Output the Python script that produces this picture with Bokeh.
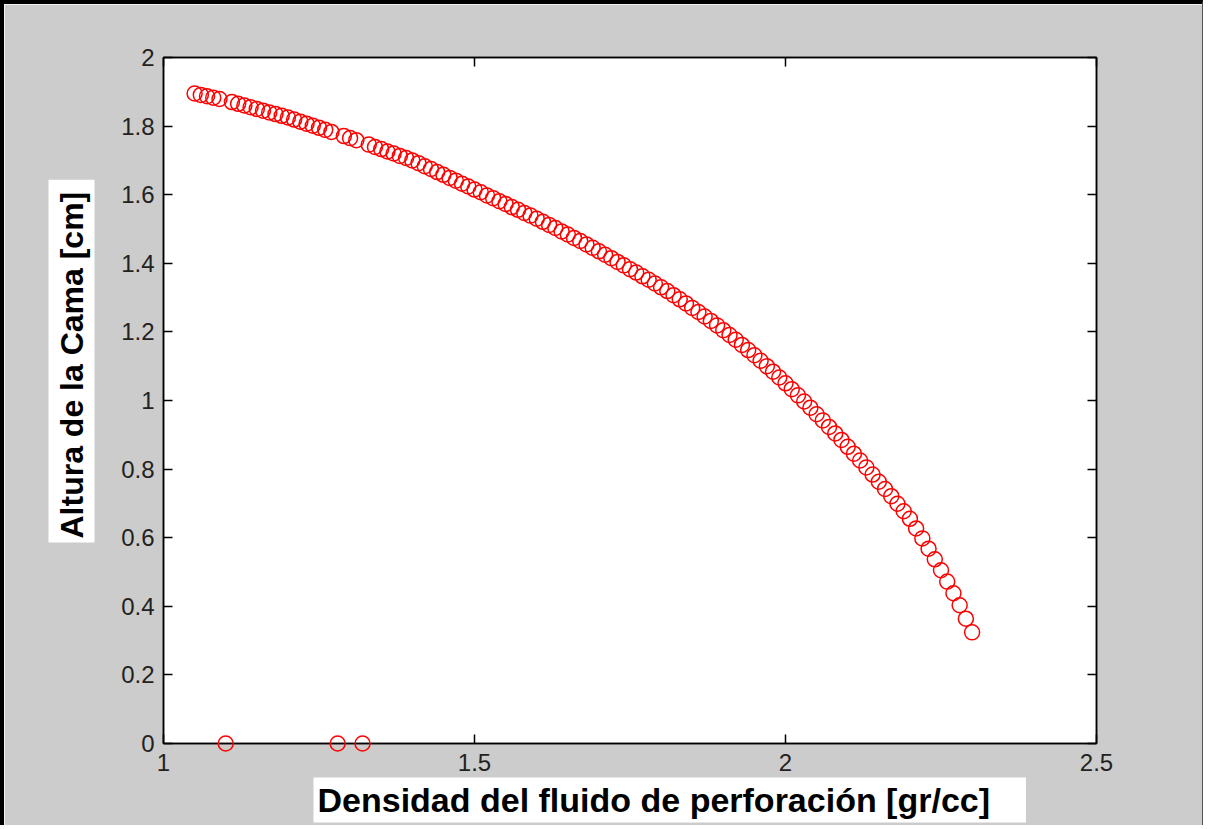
from bokeh.plotting import figure
from bokeh.models import Range1d, FixedTicker, LinearAxis, Title, ColumnDataSource
from bokeh.embed import file_html
from bokeh.resources import INLINE

# ---------------- data ----------------
density = [
    1.05, 1.06, 1.07, 1.08, 1.09, 1.10, 1.11, 1.12, 1.13, 1.14,
    1.15, 1.16, 1.17, 1.18, 1.19, 1.20, 1.21, 1.22, 1.23, 1.24,
    1.25, 1.26, 1.27, 1.28, 1.29, 1.30, 1.31, 1.32, 1.33, 1.34,
    1.35, 1.36, 1.37, 1.38, 1.39, 1.40, 1.41, 1.42, 1.43, 1.44,
    1.45, 1.46, 1.47, 1.48, 1.49, 1.50, 1.51, 1.52, 1.53, 1.54,
    1.55, 1.56, 1.57, 1.58, 1.59, 1.60, 1.61, 1.62, 1.63, 1.64,
    1.65, 1.66, 1.67, 1.68, 1.69, 1.70, 1.71, 1.72, 1.73, 1.74,
    1.75, 1.76, 1.77, 1.78, 1.79, 1.80, 1.81, 1.82, 1.83, 1.84,
    1.85, 1.86, 1.87, 1.88, 1.89, 1.90, 1.91, 1.92, 1.93, 1.94,
    1.95, 1.96, 1.97, 1.98, 1.99, 2.00, 2.01, 2.02, 2.03, 2.04,
    2.05, 2.06, 2.07, 2.08, 2.09, 2.10, 2.11, 2.12, 2.13, 2.14,
    2.15, 2.16, 2.17, 2.18, 2.19, 2.20, 2.21, 2.22, 2.23, 2.24,
    2.25, 2.26, 2.27, 2.28, 2.29, 2.30,
]
bed_height = [
    1.895, 1.891, 1.887, 1.883, 1.879, 0.000, 1.870, 1.865, 1.860, 1.855,
    1.850, 1.845, 1.840, 1.835, 1.830, 1.825, 1.819, 1.813, 1.807, 1.801,
    1.795, 1.789, 1.783, 0.000, 1.771, 1.765, 1.759, 0.000, 1.746, 1.739,
    1.733, 1.726, 1.720, 1.713, 1.707, 1.700, 1.692, 1.683, 1.675, 1.666,
    1.658, 1.649, 1.641, 1.632, 1.624, 1.615, 1.607, 1.598, 1.590, 1.581,
    1.573, 1.564, 1.556, 1.547, 1.539, 1.530, 1.521, 1.512, 1.503, 1.493,
    1.484, 1.474, 1.465, 1.455, 1.445, 1.435, 1.425, 1.415, 1.404, 1.394,
    1.383, 1.373, 1.362, 1.352, 1.341, 1.330, 1.319, 1.307, 1.295, 1.283,
    1.270, 1.258, 1.245, 1.232, 1.219, 1.205, 1.191, 1.177, 1.162, 1.147,
    1.132, 1.116, 1.100, 1.084, 1.067, 1.050, 1.033, 1.015, 0.997, 0.979,
    0.960, 0.942, 0.923, 0.904, 0.885, 0.865, 0.845, 0.825, 0.805, 0.784,
    0.763, 0.742, 0.721, 0.699, 0.677, 0.655, 0.627, 0.598, 0.568, 0.537,
    0.505, 0.472, 0.438, 0.403, 0.364, 0.324,
]

x_ticks = [1.0, 1.5, 2.0, 2.5]
x_tick_labels = ["1", "1.5", "2", "2.5"]
y_ticks = [0.0, 0.2, 0.4, 0.6, 0.8, 1.0, 1.2, 1.4, 1.6, 1.8, 2.0]
y_tick_labels = ["0", "0.2", "0.4", "0.6", "0.8", "1", "1.2", "1.4", "1.6", "1.8", "2"]

x_label = "Densidad del fluido de perforación [gr/cc]"
y_label = "Altura de la Cama [cm]"

# ---------------- figure ----------------
FONT = "Liberation Sans"
GREY = "#cccccc"

p = figure(
    width=1203, height=825,
    x_range=Range1d(1, 2.5), y_range=Range1d(0, 2),
    output_backend="svg", toolbar_location=None,
    min_border_left=159, min_border_right=111,
    min_border_top=53, min_border_bottom=86,
    background_fill_color="white", border_fill_color=GREY,
    styles={"border-top": "4px solid black", "border-left": "4px solid black",
            "border-right": "1px solid #555555"},
)
p.grid.visible = False
p.outline_line_color = "black"
p.outline_line_width = 1.5

src = ColumnDataSource(dict(x=density, y=bed_height))
r = p.scatter("x", "y", source=src, marker="circle", size=15,
              fill_color=None, line_color="red", line_width=1.5)
if "clip" in r.properties():
    r.clip = False
r.level = "overlay"


def style_axis(ax, ticks, labels, show_labels=True):
    ax.ticker = FixedTicker(ticks=ticks)
    ax.major_label_overrides = {t: l for t, l in zip(ticks, labels)}
    ax.minor_tick_line_color = None
    ax.major_tick_in = 9
    ax.major_tick_out = 0
    ax.major_tick_line_color = "black"
    ax.major_tick_line_width = 1.5
    ax.axis_line_color = "black"
    ax.axis_line_width = 1.5
    ax.major_label_text_font = FONT
    ax.major_label_text_font_size = "24px"
    ax.major_label_text_color = "#222222" if show_labels else None


style_axis(p.xaxis[0], x_ticks, x_tick_labels)
style_axis(p.yaxis[0], y_ticks, y_tick_labels)
p.xaxis[0].major_label_standoff = 10
p.yaxis[0].major_label_standoff = 9

top_ax = LinearAxis()
style_axis(top_ax, x_ticks, x_tick_labels, show_labels=False)
p.add_layout(top_ax, "above")
right_ax = LinearAxis()
style_axis(right_ax, y_ticks, y_tick_labels, show_labels=False)
p.add_layout(right_ax, "right")

t_kw = dict(text_font=FONT, text_font_style="bold", text_color="black",
            background_fill_color="white", background_fill_alpha=1.0,
            border_line_color=None)

xt = Title(text=x_label, align="left", offset=150, standoff=4,
           text_font_size="34px", **t_kw)
yt = Title(text=y_label, align="left", offset=201, standoff=48,
           text_font_size="32px", **t_kw)
for t, pad in ((xt, dict(left=4, right=36, top=3, bottom=4)),
               (yt, dict(left=4, right=12, top=5, bottom=5))):
    try:
        t.padding = pad
    except Exception:
        try:
            t.padding = 4
        except Exception:
            pass
p.add_layout(xt, "below")
p.add_layout(yt, "left")

open("out.html", "w").write(file_html(p, INLINE))
